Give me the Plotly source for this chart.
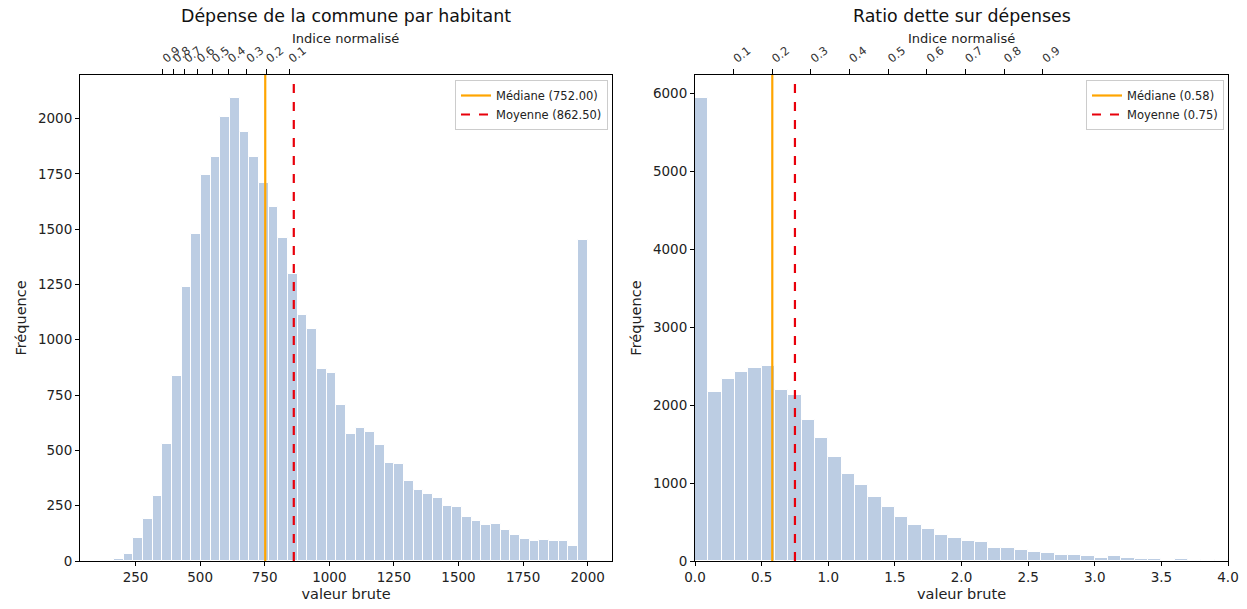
import numpy as np
import plotly.graph_objects as go

# ---------------- data ----------------
dep_bin_min = 128.6
dep_bin_max = 2000.6
dep_counts = [2, 10, 30, 103, 189, 295, 529, 838, 1237, 1480,
              1745, 1827, 2008, 2092, 1941, 1827, 1708, 1601, 1462, 1297,
              1114, 1050, 868, 848, 705, 576, 600, 585, 523, 441,
              438, 361, 321, 305, 283, 247, 242, 198, 180, 161,
              165, 141, 117, 98, 89, 94, 89, 89, 70, 1452]
dep_median = 752.00
dep_mean = 862.50
dep_top_tickvals = [356, 396, 439, 489, 547, 609, 680, 757, 844]
dep_top_ticktext = ["0.9", "0.8", "0.7", "0.6", "0.5", "0.4", "0.3", "0.2", "0.1"]

rat_bin_min = 0.0
rat_bin_width = 0.1
rat_counts = [5935, 2171, 2333, 2423, 2479, 2496, 2197, 2124, 1808, 1577,
              1338, 1120, 974, 825, 692, 568, 462, 406, 338, 299,
              261, 244, 162, 162, 137, 120, 98, 81, 81, 68,
              43, 68, 43, 26, 26, 13, 26, 13, 10, 8]
rat_median = 0.58
rat_mean = 0.75
rat_top_tickvals = [0.29, 0.58, 0.87, 1.16, 1.45, 1.74, 2.03, 2.32, 2.61]
rat_top_ticktext = ["0.1", "0.2", "0.3", "0.4", "0.5", "0.6", "0.7", "0.8", "0.9"]

titles = ["Dépense de la commune par habitant", "Ratio dette sur dépenses"]

# ---------------- figure ----------------
FONT = "DejaVu Sans"
BAR = "rgba(176,196,222,0.85)"
W, H = 1247, 609
dom1 = [80 / W, 612 / W]
dom2 = [695 / W, 1228 / W]
ydom = [(H - 561) / H, (H - 75) / H]

dep_w = (dep_bin_max - dep_bin_min) / len(dep_counts)
dep_centers = dep_bin_min + dep_w * (np.arange(len(dep_counts)) + 0.5)
rat_centers = rat_bin_min + rat_bin_width * (np.arange(len(rat_counts)) + 0.5)

dep_ymax = max(dep_counts) * 1.05
rat_ymax = max(rat_counts) * 1.05
dep_span = dep_bin_max - dep_bin_min
dep_xr = [dep_bin_min - 0.05 * dep_span, dep_bin_max + 0.05 * dep_span]
rat_xr = [0, 4.0]

fig = go.Figure()

fig.add_trace(go.Bar(x=dep_centers, y=dep_counts, width=dep_w, marker=dict(color=BAR, line=dict(color="white", width=1)),
                     xaxis="x", yaxis="y", showlegend=False, hoverinfo="skip"))
fig.add_trace(go.Scatter(x=[dep_median, dep_median], y=[0, dep_ymax], mode="lines",
                         line=dict(color="#FFA500", width=2.2), name=f"Médiane ({dep_median:.2f})",
                         xaxis="x", yaxis="y", legend="legend"))
fig.add_trace(go.Scatter(x=[dep_mean, dep_mean], y=[0, dep_ymax], mode="lines",
                         line=dict(color="#E8000B", width=2.2, dash="dash"), name=f"Moyenne ({dep_mean:.2f})",
                         xaxis="x", yaxis="y", legend="legend"))
fig.add_trace(go.Scatter(x=dep_top_tickvals, y=[None] * len(dep_top_tickvals), mode="markers",
                         xaxis="x3", yaxis="y", showlegend=False, hoverinfo="skip"))

fig.add_trace(go.Bar(x=rat_centers, y=rat_counts, width=rat_bin_width, marker=dict(color=BAR, line=dict(color="white", width=1)),
                     xaxis="x2", yaxis="y2", showlegend=False, hoverinfo="skip"))
fig.add_trace(go.Scatter(x=[rat_median, rat_median], y=[0, rat_ymax], mode="lines",
                         line=dict(color="#FFA500", width=2.2), name=f"Médiane ({rat_median:.2f})",
                         xaxis="x2", yaxis="y2", legend="legend2"))
fig.add_trace(go.Scatter(x=[rat_mean, rat_mean], y=[0, rat_ymax], mode="lines",
                         line=dict(color="#E8000B", width=2.2, dash="dash"), name=f"Moyenne ({rat_mean:.2f})",
                         xaxis="x2", yaxis="y2", legend="legend2"))
fig.add_trace(go.Scatter(x=rat_top_tickvals, y=[None] * len(rat_top_tickvals), mode="markers",
                         xaxis="x4", yaxis="y2", showlegend=False, hoverinfo="skip"))

axcommon = dict(showline=True, linecolor="black", linewidth=1, mirror=True, ticks="outside", ticklen=4,
                tickcolor="black", showgrid=False, zeroline=False, automargin=False,
                tickfont=dict(family=FONT, size=13.5, color="#222"))
topcommon = dict(showline=False, ticks="outside", ticklen=5, tickcolor="black", showgrid=False, zeroline=False,
                 automargin=False, tickfont=dict(family=FONT, size=11.5, color="#333"), tickangle=-38, side="top")

fig.update_layout(
    width=W, height=H, margin=dict(l=0, r=0, t=0, b=0, autoexpand=False),
    paper_bgcolor="white", plot_bgcolor="white", bargap=0,
    font=dict(family=FONT, color="#222"),
    xaxis=dict(domain=dom1, anchor="y", range=dep_xr, tickmode="array",
               tickvals=[250, 500, 750, 1000, 1250, 1500, 1750, 2000],
               title=dict(text="valeur brute", font=dict(family=FONT, size=14.5), standoff=4), **axcommon),
    yaxis=dict(domain=ydom, anchor="x", range=[0, dep_ymax], dtick=250,
               title=dict(text="Fréquence", font=dict(family=FONT, size=14.5), standoff=7), **axcommon),
    xaxis2=dict(domain=dom2, anchor="y2", range=rat_xr, dtick=0.5, tickformat=".1f",
                title=dict(text="valeur brute", font=dict(family=FONT, size=14.5), standoff=4), **axcommon),
    yaxis2=dict(domain=ydom, anchor="x2", range=[0, rat_ymax], dtick=1000,
                title=dict(text="Fréquence", font=dict(family=FONT, size=14.5), standoff=7), **axcommon),
    xaxis3=dict(overlaying="x", anchor="y", range=dep_xr, tickmode="array",
                tickvals=dep_top_tickvals, ticktext=dep_top_ticktext, **topcommon),
    xaxis4=dict(overlaying="x2", anchor="y2", range=rat_xr, tickmode="array",
                tickvals=rat_top_tickvals, ticktext=rat_top_ticktext, **topcommon),
    legend=dict(x=608 / W, y=(H - 80) / H, xanchor="right", yanchor="top", bgcolor="rgba(255,255,255,0.8)",
                bordercolor="#cccccc", borderwidth=1, font=dict(family=FONT, size=11.5), tracegroupgap=0,
                itemwidth=30),
    legend2=dict(x=1224 / W, y=(H - 80) / H, xanchor="right", yanchor="top", bgcolor="rgba(255,255,255,0.8)",
                 bordercolor="#cccccc", borderwidth=1, font=dict(family=FONT, size=11.5), tracegroupgap=0,
                 itemwidth=30),
    annotations=[
        dict(text=titles[0], x=(dom1[0] + dom1[1]) / 2, y=(H - 16) / H, xref="paper", yref="paper",
             showarrow=False, font=dict(family=FONT, size=17.4, color="#111"), xanchor="center", yanchor="middle"),
        dict(text=titles[1], x=(dom2[0] + dom2[1]) / 2, y=(H - 16) / H, xref="paper", yref="paper",
             showarrow=False, font=dict(family=FONT, size=17.4, color="#111"), xanchor="center", yanchor="middle"),
        dict(text="Indice normalisé", x=(dom1[0] + dom1[1]) / 2, y=(H - 38) / H, xref="paper", yref="paper",
             showarrow=False, font=dict(family=FONT, size=13, color="#222"), xanchor="center", yanchor="middle"),
        dict(text="Indice normalisé", x=(dom2[0] + dom2[1]) / 2, y=(H - 38) / H, xref="paper", yref="paper",
             showarrow=False, font=dict(family=FONT, size=13, color="#222"), xanchor="center", yanchor="middle"),
    ],
)

fig.write_html("out.html")
